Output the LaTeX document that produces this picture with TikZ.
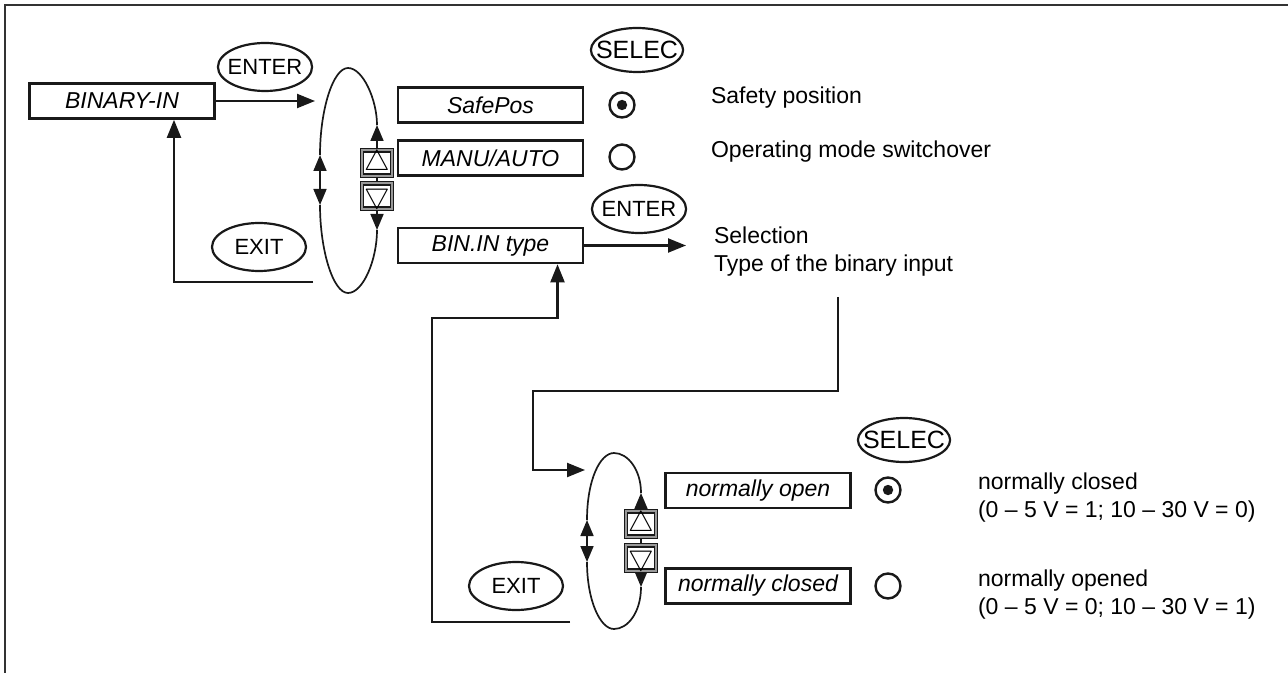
\documentclass[tikz,border=0pt]{standalone}
\usepackage{fontspec}
\setmainfont{Liberation Sans}
\usetikzlibrary{shapes, arrows.meta, positioning, calc}

\begin{document}
\begin{tikzpicture}[
            x=0.5pt, y=-0.5pt,
            font=\fontsize{11.5}{14}\selectfont,
            menu/.style={rectangle, draw=black!90, line width=1.3pt, minimum width=92.5pt, minimum height=17.5pt, inner sep=0pt, font=\fontsize{11.5}{14}\selectfont\itshape},
            key/.style={ellipse, draw=black!90, line width=1.1pt, minimum width=47pt, minimum height=24pt, inner xsep=-2pt, inner ysep=4.5pt, font=\fontsize{11}{13}\selectfont},
            selkey/.style={key, minimum width=46pt, minimum height=22pt, inner xsep=-4.2pt, inner ysep=3.3pt, font=\fontsize{12.5}{14}\selectfont},
            radio/.style={circle, draw=black!90, line width=1.2pt, minimum size=12.5pt, inner sep=0pt},
            radioon/.style={radio, path picture={\fill[black!90] (path picture bounding box.center) circle (2.6pt);}},
            updown/.style={rectangle, draw=black!90, double=black!40, line width=0.7pt, double distance=1pt, fill=white, minimum width=15pt, minimum height=12pt, inner sep=0pt, font=\fontsize{14}{14}\selectfont},
            arrow/.style={-{Triangle[length=9pt, width=7pt]}, line width=1.1pt, black!90},
            loopline/.style={line width=0.85pt, black!90},
            looptip/.style={{Triangle[length=8pt, width=6.5pt]}-{Triangle[length=8pt, width=6.5pt]}, line width=0.85pt, black!90},
            info/.style={anchor=west, align=left}
        ]
            \useasboundingbox (0,0) rectangle (1288,673);
            \draw[line width=1pt, black!80] (5,673) -- (5,5) -- (1288,5);

            % upper menu
            \node[menu] (binin) at (122, 101) {BINARY-IN};
            \node[key] (enter1) at (265, 67) {ENTER};
            \node[key] (exit1) at (259, 247) {EXIT};

            \draw[loopline] (320,155) .. controls (320,110) and (333,68) .. (348,68) .. controls (363,68) and (377,100) .. (377,125);
            \draw[loopline] (320,205) .. controls (320,250) and (333,293) .. (348,293) .. controls (363,293) and (377,260) .. (377,230);
            \draw[looptip] (320,155) -- (320,205);
            \draw[looptip] (377,125) -- (377,230);
            \node[updown] (up1) at (377, 163) {$\bigtriangleup$};
            \node[updown] (down1) at (377, 196) {$\bigtriangledown$};

            \node[menu] (safepos) at (490.5, 105) {SafePos};
            \node[menu] (manuauto) at (490.5, 158) {MANU/AUTO};
            \node[menu] (bintype) at (490.5, 245.5) {BIN.IN type};

            \node[selkey] (selec1) at (637, 50) {SELEC};
            \node[radioon] (radio1) at (622, 105) {};
            \node[radio] (radio2) at (622, 157) {};
            \node[key] (enter2) at (639, 209) {ENTER};

            \node[info] (safety) at (704, 98) {Safety position};
            \node[info] (opmode) at (704, 152) {Operating mode switchover};
            \node[info] (selection) at (707, 252) {Selection\\Type of the binary input};

            \coordinate (in1) at (315, 101);
            \coordinate (out1) at (313, 282);
            \coordinate (selout) at (838, 297);
            \coordinate (selend) at (686, 245.5);

            \draw[arrow] (binin) -- (in1);
            \draw[arrow] (out1) -| ($(binin.south)+(52,0)$);
            \draw[arrow] (bintype) -- (selend);

            % lower menu
            \node[selkey] (selec2) at (904, 440) {SELEC};
            \node[key] (exit2) at (516, 586) {EXIT};

            \draw[loopline] (587,520) .. controls (587,480) and (600,453) .. (614,453) .. controls (628,453) and (641,470) .. (641,493);
            \draw[loopline] (587,562) .. controls (587,600) and (600,629) .. (614,629) .. controls (628,629) and (641,612) .. (641,587);
            \draw[looptip] (587,520) -- (587,562);
            \draw[looptip] (641,493) -- (641,587);
            \node[updown] (up2) at (641, 524) {$\bigtriangleup$};
            \node[updown] (down2) at (641, 558) {$\bigtriangledown$};

            \node[menu] (nopen) at (758, 490.5) {normally open};
            \node[menu] (nclosed) at (758, 586) {normally closed};
            \node[radioon] (radio3) at (888, 490) {};
            \node[radio] (radio4) at (888, 586) {};

            \node[info] (closedtxt) at (971, 498) {normally closed\\(0 – 5 V = 1; 10 – 30 V = 0)};
            \node[info] (openedtxt) at (971, 595) {normally opened\\(0 – 5 V = 0; 10 – 30 V = 1)};

            \coordinate (in2) at (585, 470);
            \coordinate (out2) at (570, 622);

            \draw[arrow] (selout) -- ++(0,94) -| ($(in2)+(-52,0)$) -- (in2);
            \draw[arrow] (out2) -| ++(-138,-304) -| ($(bintype.south)+(67,0)$);
        \end{tikzpicture}
\end{document}
